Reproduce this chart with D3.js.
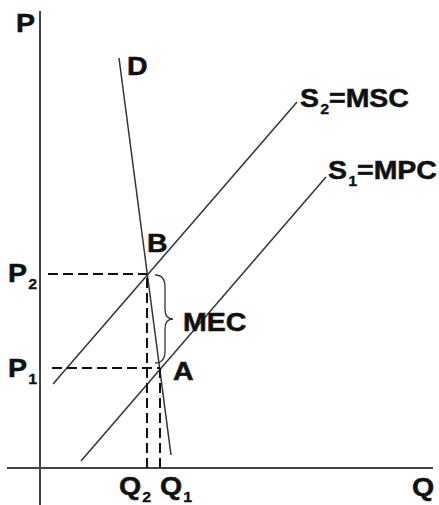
<!DOCTYPE html>
<html>
<head>
  <script src="https://d3js.org/d3.v7.min.js"></script>
  <style>
    body { margin: 0; background: #fff; }
    .lbl { font-family: "Liberation Sans", Arial, sans-serif; font-weight: bold; font-size: 25px;
           fill: #111; stroke: #111; stroke-width: 0.5px; }
    .sub { font-size: 14px; stroke-width: 0.3px; }
  </style>
</head>
<body>
  <div id="chart"></div>
  <script>
    // quantity / price in arbitrary units (0..100)
    const axisQ = [-8.25, 98.25];      // horizontal axis extent
    const axisP = [-9.25, 114.25];     // vertical axis extent
    const demand = [[19.75, 102.5], [32.75, 3.25]];
    const msc = [[3.25, 21], [64.25, 91.5]];   // S2
    const mpc = [[10.25, 1.75], [71.5, 72.75]]; // S1
    const pointB = [26.75, 48.5];
    const pointA = [30, 25];
    const dashStart = [2, 3]; // where P2 / P1 dashes begin on the q scale

    const width = 439, height = 505;
    const svg = d3.select("#chart").append("svg")
      .attr("width", width).attr("height", height);

    const x = d3.scaleLinear().domain([0, 100]).range([40, 440]);
    const y = d3.scaleLinear().domain([0, 100]).range([468, 68]);
    const line = d3.line().x(d => x(d[0])).y(d => y(d[1]));

    // axes
    svg.append("path").attr("d", line([[axisQ[0], 0], [axisQ[1], 0]]))
      .attr("stroke", "#444").attr("stroke-width", 2).attr("fill", "none");
    svg.append("path").attr("d", line([[0, axisP[0]], [0, axisP[1]]]))
      .attr("stroke", "#444").attr("stroke-width", 2).attr("fill", "none");

    // curves
    [demand, msc, mpc].forEach(c => {
      svg.append("path").attr("d", line(c))
        .attr("stroke", "#333").attr("stroke-width", 1.5).attr("fill", "none");
    });

    // dashed guides
    const dashed = [
      [[dashStart[0], pointB[1]], pointB],
      [[dashStart[1], pointA[1]], pointA],
      [[pointB[0], 0], pointB],
      [[pointA[0], 0], pointA]
    ];
    dashed.forEach(d => {
      svg.append("path").attr("d", line(d))
        .attr("stroke", "#111").attr("stroke-width", 2)
        .attr("stroke-dasharray", "10,5").attr("fill", "none");
    });

    // curly brace between B and A (MEC)
    const bx = x(pointB[0]) + 8, y0 = y(pointB[1]) + 1, y1 = y(pointA[1]) - 5;
    const ym = (y0 + y1) / 2, w = 10, tip = 18;
    const brace = `M${bx},${y0} Q${bx + w},${y0} ${bx + w},${y0 + 12}
      L${bx + w},${ym - 10} Q${bx + w},${ym} ${bx + tip},${ym}
      Q${bx + w},${ym} ${bx + w},${ym + 10} L${bx + w},${y1 - 12}
      Q${bx + w},${y1} ${bx},${y1}`;
    svg.append("path").attr("d", brace)
      .attr("stroke", "#333").attr("stroke-width", 1.3).attr("fill", "none");

    // labels
    function label(txt, px, py, sub) {
      const t = svg.append("text").attr("class", "lbl")
        .attr("transform", `translate(${px},${py}) scale(1.14,1)`);
      t.append("tspan").text(txt);
      if (sub) {
        t.append("tspan").attr("class", "sub").attr("dy", 7).attr("dx", 1).text(sub[0]);
        if (sub[1]) t.append("tspan").attr("dy", -7).text(sub[1]);
      }
    }
    label("P", 16, 32);
    label("Q", 412, 496);
    label("D", x(demand[0][0]) + 8, y(demand[0][1]) + 17);
    label("S", x(msc[1][0]) + 3, y(msc[1][1]) + 5, ["2", "=MSC"]);
    label("S", x(mpc[1][0]) + 2, y(mpc[1][1]) + 2, ["1", "=MPC"]);
    label("B", x(pointB[0]), y(pointB[1]) - 22);
    label("A", x(pointA[0]) + 13, y(pointA[1]) + 12);
    label("MEC", bx + tip + 10, ym + 12);
    label("P", 8, y(pointB[1]) + 8, ["2"]);
    label("P", 8, y(pointA[1]) + 9, ["1"]);
    label("Q", x(pointB[0]) - 28, 495, ["2"]);
    label("Q", x(pointA[0]) + 0, 495, ["1"]);
  </script>
</body>
</html>
